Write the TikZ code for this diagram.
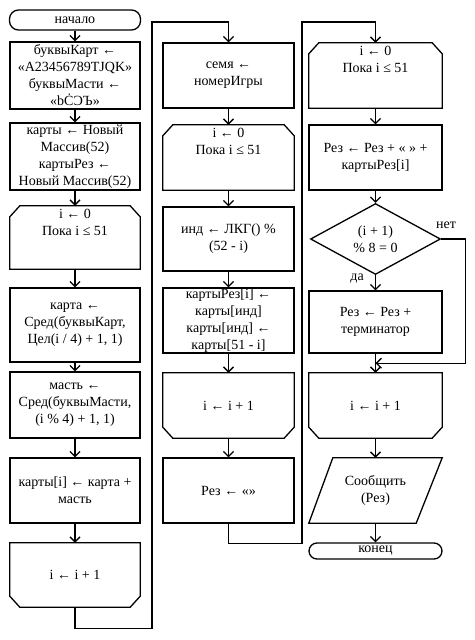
\documentclass[tikz,border=0pt]{standalone}
\usepackage{fontspec}
\setmainfont{Liberation Serif}
\usetikzlibrary{arrows.meta,calc,shapes.geometric}
\newcommand\hextop[1]{\draw[ln] ($(#1.north west)+(0,11)$) -- ($(#1.north west)+(10,0)$) -- ($(#1.north east)+(-10,0)$) -- ($(#1.north east)+(0,11)$) -- (#1.south east) -- (#1.south west) -- cycle;}
\newcommand\hexbot[1]{\draw[ln] (#1.north west) -- (#1.north east) -- ($(#1.south east)+(0,-11)$) -- ($(#1.south east)+(-10,0)$) -- ($(#1.south west)+(10,0)$) -- ($(#1.south west)+(0,-11)$) -- cycle;}
\begin{document}
\begin{tikzpicture}[x=1pt,y=-1pt,
  ln/.style={line width=1.3pt, line join=miter},
  txt/.style={font=\fontsize{14}{17}\selectfont, align=center, inner sep=0pt},
  box/.style={ln, draw, rectangle, txt, minimum width=#1, minimum height=65pt},
  box/.default=131pt,
  shp/.style={rectangle, inner sep=0pt, minimum width=#1, minimum height=65pt},
  shp/.default=131pt,
  arr/.style={ln, -{Straight Barb[length=5pt,width=10pt]}},
  term/.style={ln, draw, rectangle, rounded corners=9pt, txt, minimum width=131pt, minimum height=#1},
]
\useasboundingbox (0,0) rectangle (474,640);

% ---------- left column ----------
\node[term=20pt] (start) at (75,20) {начало};
\node[box=130pt, minimum height=67pt] (b1) at (75,75.5) {буквыКарт ←\\«A23456789TJQK»\\буквыМасти ←\\«bĊƆЪ»};
\node[box=130pt, minimum height=67pt] (b2) at (75,156.5) {карты ← Новый\\Массив(52)\\картыРез ←\\Новый Массив(52)};
\node[shp=130pt, minimum height=63pt] (L1) at (75,237.5) {};
\hextop{L1}
\node[txt, anchor=north] (L1t) at ($(L1.north)+(0,3)$) {i ← 0\\Пока i ≤ 51};
\node[box=130pt, minimum height=74pt] (b3) at (75,325) {карта ←\\Сред(буквыКарт,\\Цел(i / 4) + 1, 1)};
\node[box=130pt, minimum height=66pt] (b4) at (75,405) {масть ←\\Сред(буквыМасти,\\(i \% 4) + 1, 1)};
\node[box=130pt] (b5) at (75,490.5) {карты[i] ← карта +\\масть};
\node[shp=130pt, minimum height=64pt] (L1e) at (75,575) {};
\hexbot{L1e}
\node[txt] (L1et) at (L1e) {i ← i + 1};

\draw[arr] (start) -- (b1);
\draw[arr] (b1) -- (b2);
\draw[arr] (b2) -- (L1);
\draw[arr] (L1) -- (b3);
\draw[arr] (b3) -- (b4);
\draw[arr] (b4) -- (b5);
\draw[arr] (b5) -- (L1e);

% ---------- middle column ----------
\node[box] (b6) at (228.5,75.5) {семя ←\\номерИгры};
\node[shp] (L2) at (228.5,157.5) {};
\hextop{L2}
\node[txt, anchor=north] (L2t) at ($(L2.north)+(0,3)$) {i ← 0\\Пока i ≤ 51};
\node[box, minimum height=64pt] (b7) at (228.5,239) {инд ← ЛКГ() \%\\(52 - i)};
\node[box] (b8) at (228.5,320.5) {картыРез[i] ←\\карты[инд]\\карты[инд] ←\\карты[51 - i]};
\node[shp] (L2e) at (228.5,405.5) {};
\hexbot{L2e}
\node[txt] (L2et) at (L2e) {i ← i + 1};
\node[box] (b9) at (228.5,490.5) {Рез ← «»};

\coordinate (c1) at (152,22);
\draw[arr] (L1e.south) -- ++(0,21) -| (c1) -| (b6.north);
\draw[arr] (b6) -- (L2);
\draw[arr] (L2) -- (b7);
\draw[arr] (b7) -- (b8);
\draw[arr] (b8) -- (L2e);
\draw[arr] (L2e) -- (b9);

% ---------- right column ----------
\node[shp=133pt] (L3) at (375.5,75.5) {};
\hextop{L3}
\node[txt, anchor=north] (L3t) at ($(L3.north)+(0,3)$) {i ← 0\\Пока i ≤ 51};
\node[box=133pt] (b10) at (375.5,157.5) {Рез ← Рез + « » +\\картыРез[i]};
\node[ln, draw, diamond, txt, minimum width=130pt, minimum height=64pt] (d) at (375.5,239) {(i + 1)\\\% 8 = 0};
\node[box=133pt, minimum height=62pt] (b11) at (375.5,322) {Рез ← Рез +\\терминатор};
\node[shp=133pt] (L3e) at (375.5,405.5) {};
\hexbot{L3e}
\node[txt] (L3et) at (L3e) {i ← i + 1};
\node[shp=133pt] (P) at (375.5,490.5) {};
\draw[ln] ($(P.north west)+(24,0)$) -- (P.north east) -- ($(P.south east)+(-26,0)$) -- (P.south west) -- cycle;
\node[txt] (Pt) at (P) {Сообщить\\(Рез)};
\node[term=16pt, minimum width=133pt, rounded corners=8pt] (end) at (375.5,551) {конец};

\coordinate (c2) at (302,22);
\draw[arr] (b9.south) -- ++(0,20) -| (c2) -| (L3.north);
\draw[arr] (L3) -- (b10);
\draw[arr] (b10) -- (d);
\draw[arr] (d) -- (b11);
\draw[arr] (b11) -- (L3e);
\coordinate (j) at ($(b11.south)!0.5!(L3e.north)$);
\draw[arr] (d.east) -- ++(24,0) |- (j);
\node[txt, anchor=south west] (no) at (436,229) {нет};
\node[txt, anchor=east] (yes) at (364,279) {да};
\draw[arr] (L3e) -- (P);
\draw[arr] (P) -- (end);
\end{tikzpicture}
\end{document}
